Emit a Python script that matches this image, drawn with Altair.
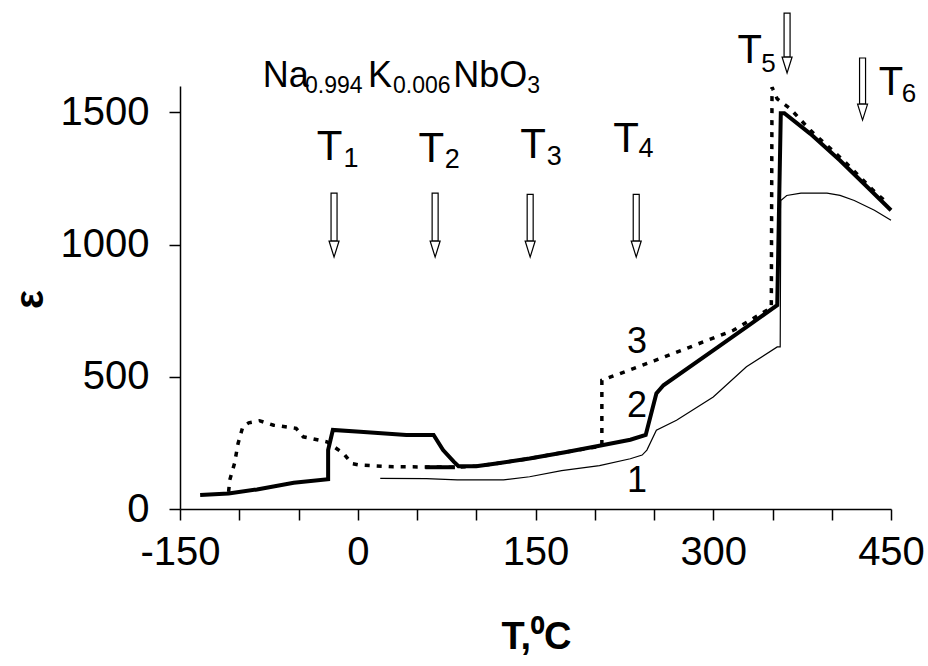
import altair as alt
import pandas as pd

# ---- curve data (T in degC, epsilon) ----
c1_T = [19, 58, 84, 123, 145, 172, 204, 230, 240, 244, 252, 269, 300, 328, 354, 356.5, 357, 362, 374, 396, 407, 419, 436, 450]
c1_e = [116, 115, 110, 110, 122, 145, 164, 190, 204, 223, 298, 336, 424, 538, 613, 613, 1167, 1186, 1195, 1195, 1186, 1167, 1130, 1092]

c2_T = [-133, -109, -85, -54, -25, -25, -21, 2, 41, 64, 72, 81, 85, 100, 117, 145, 175, 205, 230, 243, 252, 258, 300, 330, 354, 357, 360, 382, 407, 430, 450]
c2_e = [53, 59, 74, 99, 113, 223, 299, 292, 280, 280, 223, 179, 162, 162, 172, 191, 215, 240, 262, 280, 437, 468, 600, 695, 771, 1497, 1497, 1419, 1318, 1218, 1130]

c2b_T = [57, 82]
c2b_e = [158, 158]

c3_T = [-109, -108, -104, -101, -97, -92, -83, -71, -52, -46, -26, -18, -12, -5, 2, 30, 81, 100, 117, 145, 175, 206, 206, 250, 317, 349, 349.6, 354, 365, 382, 410, 435, 446]
c3_e = [65, 110, 172, 248, 311, 326, 334, 317, 305, 273, 254, 229, 210, 172, 166, 160, 158, 162, 172, 191, 215, 238, 487, 560, 676, 762, 1595, 1551, 1514, 1432, 1318, 1205, 1161]

# ---- annotations ----
curve_label_text = ["1", "2", "3"]
curve_label_T = [235.6, 235.6, 235.6]
curve_label_e = [65, 349, 589]

ann_text = ["Na", "0.994", "K", "0.006", "NbO", "3",
            "T", "1", "T", "2", "T", "3", "T", "4", "T", "5", "T", "6"]
ann_T = [-80.2, -44.5, 8.7, 29.8, 80.5, 143.0,
         -34.6, -12.0, 51.2, 73.5, 137.1, 159.5, 215.6, 237.0, 320.4, 340.5, 439.7, 459.0]
ann_e = [1597, 1572, 1597, 1572, 1597, 1572,
         1320, 1295, 1314, 1290, 1328, 1301, 1351, 1332, 1687, 1653, 1566, 1540]
ann_size = [36, 23, 36, 23, 36, 23,
            42, 27, 42, 27, 42, 27, 42, 27, 40, 26, 40, 26]

arrow_T = [-20, 65.3, 145.5, 235, 362.3, 426]
arrow_top = [1195, 1195, 1190, 1190, 1876, 1706]
arrow_tip = [953, 953, 953, 953, 1649, 1471]


def curve_frame(T, e, seg):
    return pd.DataFrame({"T": T, "e": e, "i": list(range(len(T))), "seg": seg})


df1 = curve_frame(c1_T, c1_e, "1")
df2 = pd.concat([curve_frame(c2_T, c2_e, "2"), curve_frame(c2b_T, c2b_e, "2b")])
df3 = curve_frame(c3_T, c3_e, "3")

labels_df = pd.DataFrame({"T": curve_label_T, "e": curve_label_e, "text": curve_label_text})
ann_df = pd.DataFrame({"T": ann_T, "e": ann_e, "text": ann_text, "fs": ann_size})

px_per_e = 423 / 1600.0
px_per_T = 711 / 600.0
shaft_half = 3.0 / px_per_T
arrows_df = pd.DataFrame({
    "T": arrow_T,
    "Tl": [t - shaft_half for t in arrow_T],
    "Tr": [t + shaft_half for t in arrow_T],
    "top": arrow_top,
    "headtop": [t + 16 / px_per_e for t in arrow_tip],
    "headmid": [t + 8 / px_per_e for t in arrow_tip],
})

FONT = "Liberation Sans"

x_scale = alt.Scale(domain=[-150, 450], nice=False, zero=False)
y_scale = alt.Scale(domain=[0, 1600], nice=False, zero=False)

x_axis = alt.Axis(
    values=list(range(-150, 451, 50)),
    labelExpr="datum.value % 150 == 0 ? toString(datum.value) : ''",
    labelOverlap=False,
    labelFlush=False,
    labelBound=False,
    labelPadding=12,
    title="T,⁰C",
    titleFontSize=38,
    titleFontWeight="bold",
    titleX=356,
    titleY=139,
    titleAlign="center",
    titleBaseline="alphabetic",
)
y_axis = alt.Axis(
    values=[0, 500, 1000, 1500],
    labelExpr="toString(datum.value)",
    labelFlush=False,
    labelBound=False,
    labelPadding=20,
    title="ε",
    titleFontSize=40,
    titleFontWeight="bold",
    titleAngle=270,
    titleX=-150,
    titleY=213,
    titleAlign="center",
    titleBaseline="middle",
)


def X(field="T"):
    return alt.X(f"{field}:Q", scale=x_scale, axis=x_axis)


def Y(field="e"):
    return alt.Y(f"{field}:Q", scale=y_scale, axis=y_axis)


line1 = alt.Chart(df1).mark_line(color="black", strokeWidth=1.2).encode(
    x=X(), y=Y(), order="i:Q", detail="seg:N")
line2 = alt.Chart(df2).mark_line(color="black", strokeWidth=4).encode(
    x=X(), y=Y(), order="i:Q", detail="seg:N")
line3 = alt.Chart(df3).mark_line(color="black", strokeWidth=3.5, strokeDash=[5, 7]).encode(
    x=X(), y=Y(), order="i:Q", detail="seg:N")

curve_labels = alt.Chart(labels_df).mark_text(
    font=FONT, fontSize=36, color="black", align="center", baseline="alphabetic"
).encode(x=X(), y=Y(), text="text:N")

annotations = alt.Chart(ann_df).mark_text(
    font=FONT, color="black", align="left", baseline="alphabetic"
).encode(x=X(), y=Y(), text="text:N", size=alt.Size("fs:Q", scale=None, legend=None))

shafts = alt.Chart(arrows_df).mark_rect(
    fill="white", stroke="black", strokeWidth=1.2
).encode(x=X("Tl"), x2="Tr:Q", y=Y("top"), y2="headtop:Q")

heads = alt.Chart(arrows_df).mark_point(
    shape="M-1,-1.6L1,-1.6L0,1.6Z", size=100, filled=True, fill="white",
    stroke="black", strokeWidth=1.2, opacity=1
).encode(x=X(), y=Y("headmid"))

chart = alt.layer(line1, line3, line2, curve_labels, annotations, shafts, heads).properties(
    width=711, height=423,
    autosize=alt.AutoSizeParams(type="none"),
    padding={"left": 180, "top": 86, "right": 37, "bottom": 157},
    background="white",
).configure_view(stroke=None).configure_axis(
    grid=False,
    domainColor="black", domainWidth=1.5,
    tickColor="black", tickWidth=1.5, tickSize=11,
    labelFont=FONT, labelFontSize=40, labelColor="black",
    titleFont=FONT, titleColor="black",
)

chart.save("out.html", embed_options={"renderer": "svg", "actions": False})
